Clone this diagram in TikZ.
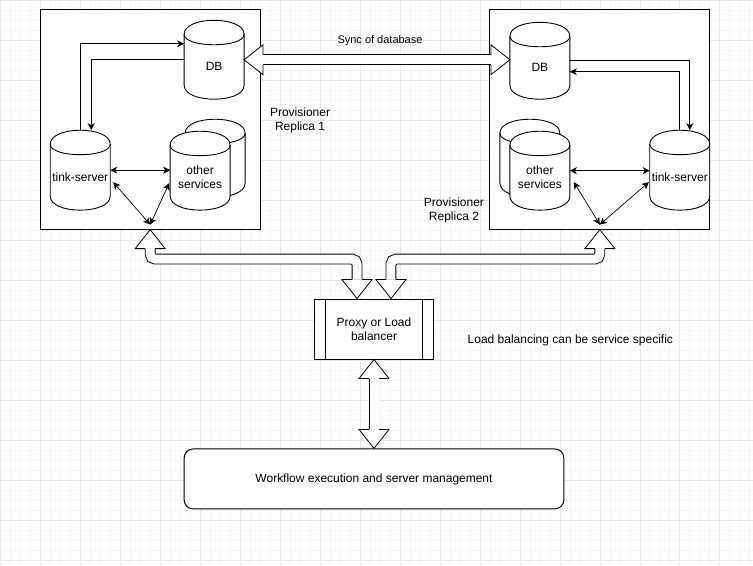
\documentclass[tikz,border=0pt]{standalone}
\usepackage{fontspec}
\setmainfont{Liberation Sans}
\usetikzlibrary{arrows.meta,calc}

% cylinder outline: left, top, width, height
\newcommand\cylpath[4]{%
  \draw[link, fill=white] (#1,#2+14) .. controls (#1,#2-14/3) and (#1+#3,#2-14/3) .. (#1+#3,#2+14)
    -- (#1+#3,#2+#4-14) .. controls (#1+#3,#2+#4+14/3) and (#1,#2+#4+14/3) .. (#1,#2+#4-14) -- cycle;
  \draw[link] (#1,#2+14) .. controls (#1,#2+28) and (#1+#3,#2+28) .. (#1+#3,#2+14);
}
% cylinder with name and text: name, left, top, width, height, text
\newcommand\cyl[6]{%
  \cylpath{#2}{#3}{#4}{#5}
  \node[cylbox, minimum width=#4, minimum height=#5] (#1) at (#2+#4/2,#3+#5/2) {};
  \node[cyltext] (#1-label) at ($(#1.center)+(0,7)$) {#6};
}
% open head of a wide arrow: tip, direction
\newcommand\flexhead[2]{%
  \begin{scope}[shift={(#1)}, rotate=#2]
    \fill[white] (0,0) -- (-19,-15) -- (-19,15) -- cycle;
    \draw[flexline] (-19,-5) -- (-19,-15) -- (0,0) -- (-19,15) -- (-19,5);
  \end{scope}
}

\begin{document}
\begin{tikzpicture}[x=1pt, y=-1pt,
    every node/.style={font=\fontsize{12}{14}\selectfont},
    >={Stealth[length=7pt,width=7pt,inset=2pt]},
    link/.style={line width=0.9pt},
    replica/.style={draw, fill=white, line width=1pt, minimum width=220, minimum height=220, inner sep=0},
    cylbox/.style={inner sep=0, outer sep=0},
    cyltext/.style={align=center, inner sep=1pt},
    procbox/.style={draw, fill=white, line width=1pt, minimum width=120, minimum height=60, align=center},
    flowbox/.style={draw, fill=white, line width=1pt, rounded corners=9pt, minimum width=380, minimum height=60},
    flexshaft/.style={double=white, double distance=9pt, line width=0.9pt, rounded corners=5pt},
    flexline/.style={line width=0.8pt, line join=miter},
    note/.style={align=center, inner sep=1pt}]

  % Define colors
  \colorlet{gridminor}{black!4}
  \colorlet{gridmajor}{black!9}

  % Background grid
  \fill[white] (0,0) rectangle (753,565);
  \draw[gridminor, line width=0.6pt, step=10pt] (0,565) grid (753,0);
  \draw[gridmajor, line width=0.6pt, step=40pt] (0,565) grid (753,0);
  \useasboundingbox (0,0) rectangle (753,565);

  % Replica boxes
  \node[replica] (rep1) at (150,119) {};
  \node[replica] (rep2) at (600,119) {};

  % Cylinders of replica 1
  \cyl{db1}{184}{20}{60}{79}{DB}
  \cyl{ts1}{50}{130}{60}{80}{tink-server}
  \cylpath{185}{119}{60}{78}
  \cyl{os1}{170}{131}{60}{79}{other\\services}

  % Cylinders of replica 2
  \cyl{db2}{510}{22}{60}{77}{DB}
  \cyl{ts2}{650}{130}{60}{80}{tink-server}
  \cylpath{500}{119}{60}{78}
  \cyl{os2}{510}{131}{60}{79}{other\\services}

  % Proxy and workflow boxes
  \node[procbox] (proxy) at (374,329) {Proxy or Load\\balancer};
  \draw[line width=1pt] ($(proxy.north west)+(12,0)$) -- ($(proxy.south west)+(12,0)$);
  \draw[line width=1pt] ($(proxy.north east)+(-12,0)$) -- ($(proxy.south east)+(-12,0)$);
  \node[flowbox] (workflow) at (374,479) {Workflow execution and server management};

  % Labels
  \node[note, font=\fontsize{11}{13}\selectfont] (synclabel) at (380,40) {Sync of database};
  \node[note] (rep1label) at (300,120) {Provisioner\\Replica 1};
  \node[note] (rep2label) at (454,210) {Provisioner\\Replica 2};
  \node[note] (lbnote) at (570.5,340) {Load balancing can be service specific};

  % Arrows inside replica 1
  \draw[link, ->] (ts1.north) |- ($(db1.west)+(0,-16)$);
  \draw[link, ->] (db1.west) -| ($(ts1.north)+(11,0)$);
  \draw[link, <->] (ts1.east) -- (ts1.east -| os1.west);
  \coordinate (hub1) at ($(rep1.south)+(0,-5)$);
  \draw[line width=0.7pt, <->] (hub1) -- ($(ts1.east)+(3,12)$);
  \draw[line width=0.7pt, <->] (hub1) -- ($(os1.west)+(-1,12.5)$);

  % Arrows inside replica 2
  \draw[link, ->] (db2.east) -| ($(ts2.north)+(10,0)$);
  \draw[link, ->] (ts2.north) |- ($(db2.east)+(0,11)$);
  \draw[link, <->] (os2.east) -- (os2.east -| ts2.west);
  \coordinate (hub2) at ($(rep2.south)+(0,-5)$);
  \draw[line width=0.7pt, <->] (hub2) -- ($(os2.east)+(4,11.5)$);
  \draw[line width=0.7pt, <->] (hub2) -- ($(ts2.west)+(-1,12)$);

  % Sync of database
  \coordinate (syncA) at (db1.east);
  \coordinate (syncB) at (db1.east -| db2.west);
  \draw[flexshaft] ($(syncA)+(19,0)$) -- ($(syncB)+(-19,0)$);
  \flexhead{syncA}{180}
  \flexhead{syncB}{0}

  % Replicas to proxy
  \coordinate (lbA) at (hub1 |- rep1.south);
  \coordinate (lbB) at ($(proxy.north)+(-17,0)$);
  \draw[flexshaft] ($(lbA)+(0,19)$) |- ($(lbB)+(0,-39.5)$) -- ($(lbB)+(0,-19)$);
  \flexhead{lbA}{90}
  \flexhead{lbB}{-90}
  \coordinate (rbA) at (hub2 |- rep2.south);
  \coordinate (rbB) at ($(proxy.north)+(17,0)$);
  \draw[flexshaft] ($(rbA)+(0,19)$) |- ($(rbB)+(0,-39.5)$) -- ($(rbB)+(0,-19)$);
  \flexhead{rbA}{90}
  \flexhead{rbB}{-90}

  % Proxy to workflow
  \draw[flexshaft] ($(proxy.south)+(0,19)$) -- ($(workflow.north)+(0,-19)$);
  \flexhead{proxy.south}{90}
  \flexhead{workflow.north}{-90}
\end{tikzpicture}
\end{document}
